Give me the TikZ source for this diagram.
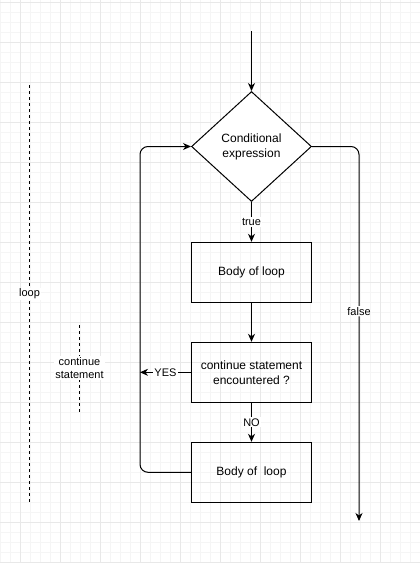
\documentclass[tikz,border=0pt]{standalone}
\usepackage{fontspec}
\setmainfont{Liberation Sans}
\usetikzlibrary{shapes.geometric,arrows.meta}
\begin{document}
\begin{tikzpicture}[x=1pt,y=-1pt,
  box/.style={draw,line width=1pt,minimum width=120pt,minimum height=60pt,inner sep=0pt,font=\fontsize{12}{15}\selectfont,align=center},
  decision/.style={draw,line width=1pt,diamond,minimum width=120pt,minimum height=110pt,inner sep=0pt,font=\fontsize{12}{15}\selectfont,align=center,fill=white},
  arr/.style={line width=1pt,-{Stealth[length=8pt,width=7pt,inset=2.5pt]}},
  lbl/.style={fill=white,inner sep=1pt,font=\fontsize{11}{13}\selectfont,align=center},
  dashline/.style={line width=1pt,dash pattern=on 3pt off 3pt},
  minorgrid/.style={draw={rgb,255:red,245;green,245;blue,245},line width=0.8pt},
  majorgrid/.style={draw={rgb,255:red,232;green,232;blue,232},line width=1pt}]
\useasboundingbox (0,0) rectangle (420,563);
\fill[white] (0,0) rectangle (420,563);
% grid
\foreach \x in {0,10,...,420} \draw[minorgrid] (\x,0) -- (\x,563);
\foreach \y in {2,12,...,562} \draw[minorgrid] (0,\y) -- (420,\y);
\foreach \x in {20,60,...,420} \draw[majorgrid] (\x,0) -- (\x,563);
\foreach \y in {2,42,...,562} \draw[majorgrid] (0,\y) -- (420,\y);
% dashed brackets
\coordinate (lpA) at (29.5,85);
\coordinate (lpB) at (29.5,502);
\draw[dashline] (lpA) -- (lpB);
\node[lbl] (looplbl) at (29.5,294) {loop};
\coordinate (csA) at (79.5,325);
\coordinate (csB) at (79.5,412);
\draw[dashline] (csA) -- (csB);
\node[lbl] (cslbl) at (79.5,368) {continue\\statement};
% nodes
\coordinate (top) at (251.5,31);
\node[decision] (dia) at (251.5,146.5) {Conditional\\expression};
\node[box] (b1) at (251.5,272.3) {Body of loop};
\node[box] (b2) at (251.5,372.3) {continue statement\\encountered ?};
\node[box] (b3) at (251.5,472.3) {Body of\ \ loop};
\coordinate (yesend) at (140,372.3);
\coordinate (lp) at (140,146.5);
\coordinate (fend) at (359,521);
% connectors
\draw[arr] (top) -- (dia.north);
\draw[arr] (dia.south) -- node[lbl]{true} (b1.north);
\draw[arr] (b1.south) -- (b2.north);
\draw[arr] (b2.south) -- node[lbl]{NO} (b3.north);
\draw[arr] (b2.west) -- node[lbl]{YES} (yesend);
\draw[arr,rounded corners=8pt] (b3.west) -| (lp) -- (dia.west);
\draw[arr,rounded corners=8pt] (dia.east) -| node[lbl,pos=0.72]{false} (fend);
\end{tikzpicture}
\end{document}
